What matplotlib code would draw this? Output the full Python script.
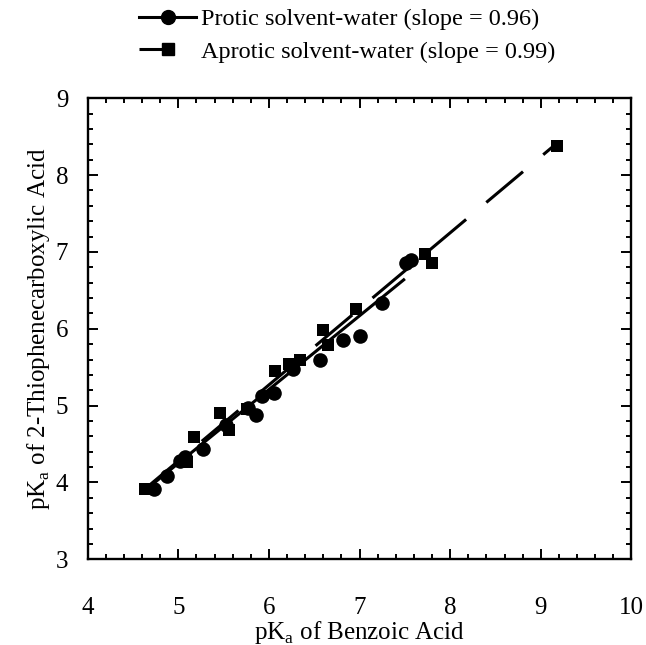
import numpy as np
import matplotlib
matplotlib.use("Agg")
from matplotlib import pyplot as plt
from matplotlib.lines import Line2D

plt.rcParams['font.family'] = ['Liberation Serif', 'DejaVu Serif']
plt.rcParams['lines.scale_dashes'] = False

# protic solvent-water points (circles)
protic_x = [4.73, 4.87, 5.02, 5.07, 5.27, 5.53, 5.77, 5.86, 5.92, 6.05,
            6.27, 6.56, 6.82, 7.00, 7.25, 7.51, 7.57]
protic_y = [3.91, 4.08, 4.28, 4.33, 4.43, 4.75, 4.97, 4.88, 5.13, 5.17,
            5.48, 5.59, 5.85, 5.91, 6.34, 6.86, 6.89]

# aprotic solvent-water points (squares)
aprotic_x = [4.63, 5.10, 5.17, 5.46, 5.56, 5.76, 6.07, 6.22, 6.34, 6.60,
             6.65, 6.96, 7.72, 7.80, 9.18]
aprotic_y = [3.92, 4.27, 4.59, 4.91, 4.68, 4.96, 5.45, 5.54, 5.59, 5.99,
             5.79, 6.26, 6.97, 6.85, 8.38]

# fitted lines: slope, intercept, x range
protic_slope, protic_icpt = 0.96, -0.55
protic_range = [4.73, 7.50]
aprotic_slope, aprotic_icpt = 0.99, -0.67
aprotic_range = [4.63, 9.18]

labels = ["Protic solvent-water (slope = 0.96)",
          "Aprotic solvent-water (slope = 0.99)"]

fig = plt.figure(figsize=(6.46, 6.45), dpi=100)
ax = fig.add_axes([0.1358, 0.1329, 0.8417, 0.7147])

# fit lines
px = np.array(protic_range)
ax.plot(px, protic_slope * px + protic_icpt, color='black', lw=2.2,
        solid_capstyle='butt')
axx = np.array(aprotic_range)
ax.plot(axx, aprotic_slope * axx + aprotic_icpt, color='black', lw=2.2,
        linestyle=(0, (34.5, 19)), dash_capstyle='butt')

# points
ax.plot(aprotic_x, aprotic_y, 's', color='black', ms=9, mew=0)
ax.plot(protic_x, protic_y, 'o', color='black', ms=10.5, mew=0)

ax.set_xlim(4, 10)
ax.set_ylim(3, 9)
ax.set_xticks(np.arange(4, 11, 1))
ax.set_yticks(np.arange(3, 10, 1))
ax.set_xticks(np.arange(4, 10.01, 0.2), minor=True)
ax.set_yticks(np.arange(3, 9.01, 0.2), minor=True)
ax.tick_params(which='both', direction='in', top=True, right=True, width=1.4)
ax.tick_params(which='major', length=7, labelsize=18)
ax.tick_params(which='minor', length=3.8)
ax.tick_params(axis='x', which='major', pad=27)
ax.tick_params(axis='y', which='major', pad=14)
for s in ax.spines.values():
    s.set_linewidth(1.7)

ax.set_xlabel(r"pK$_\mathregular{a}$ of Benzoic Acid", fontsize=18, labelpad=0)
ax.set_ylabel(r"pK$_\mathregular{a}$ of 2-Thiophenecarboxylic Acid", fontsize=18,
              labelpad=3)

# legend proxies
h1 = Line2D([], [], color='black', lw=2.2, marker='o', ms=10)
h2 = Line2D([], [], color='black', lw=2.2, marker='s', ms=9,
            linestyle=(0, (20, 40)))
fig.legend([h1, h2], labels, loc='upper left',
           bbox_to_anchor=(139 / 646, 1 - 8 / 645),
           frameon=False, fontsize=17.5, handlelength=2.35, handletextpad=0.2,
           labelspacing=0.45, numpoints=1, borderpad=0, borderaxespad=0)

fig.savefig("out.png", dpi=100)
